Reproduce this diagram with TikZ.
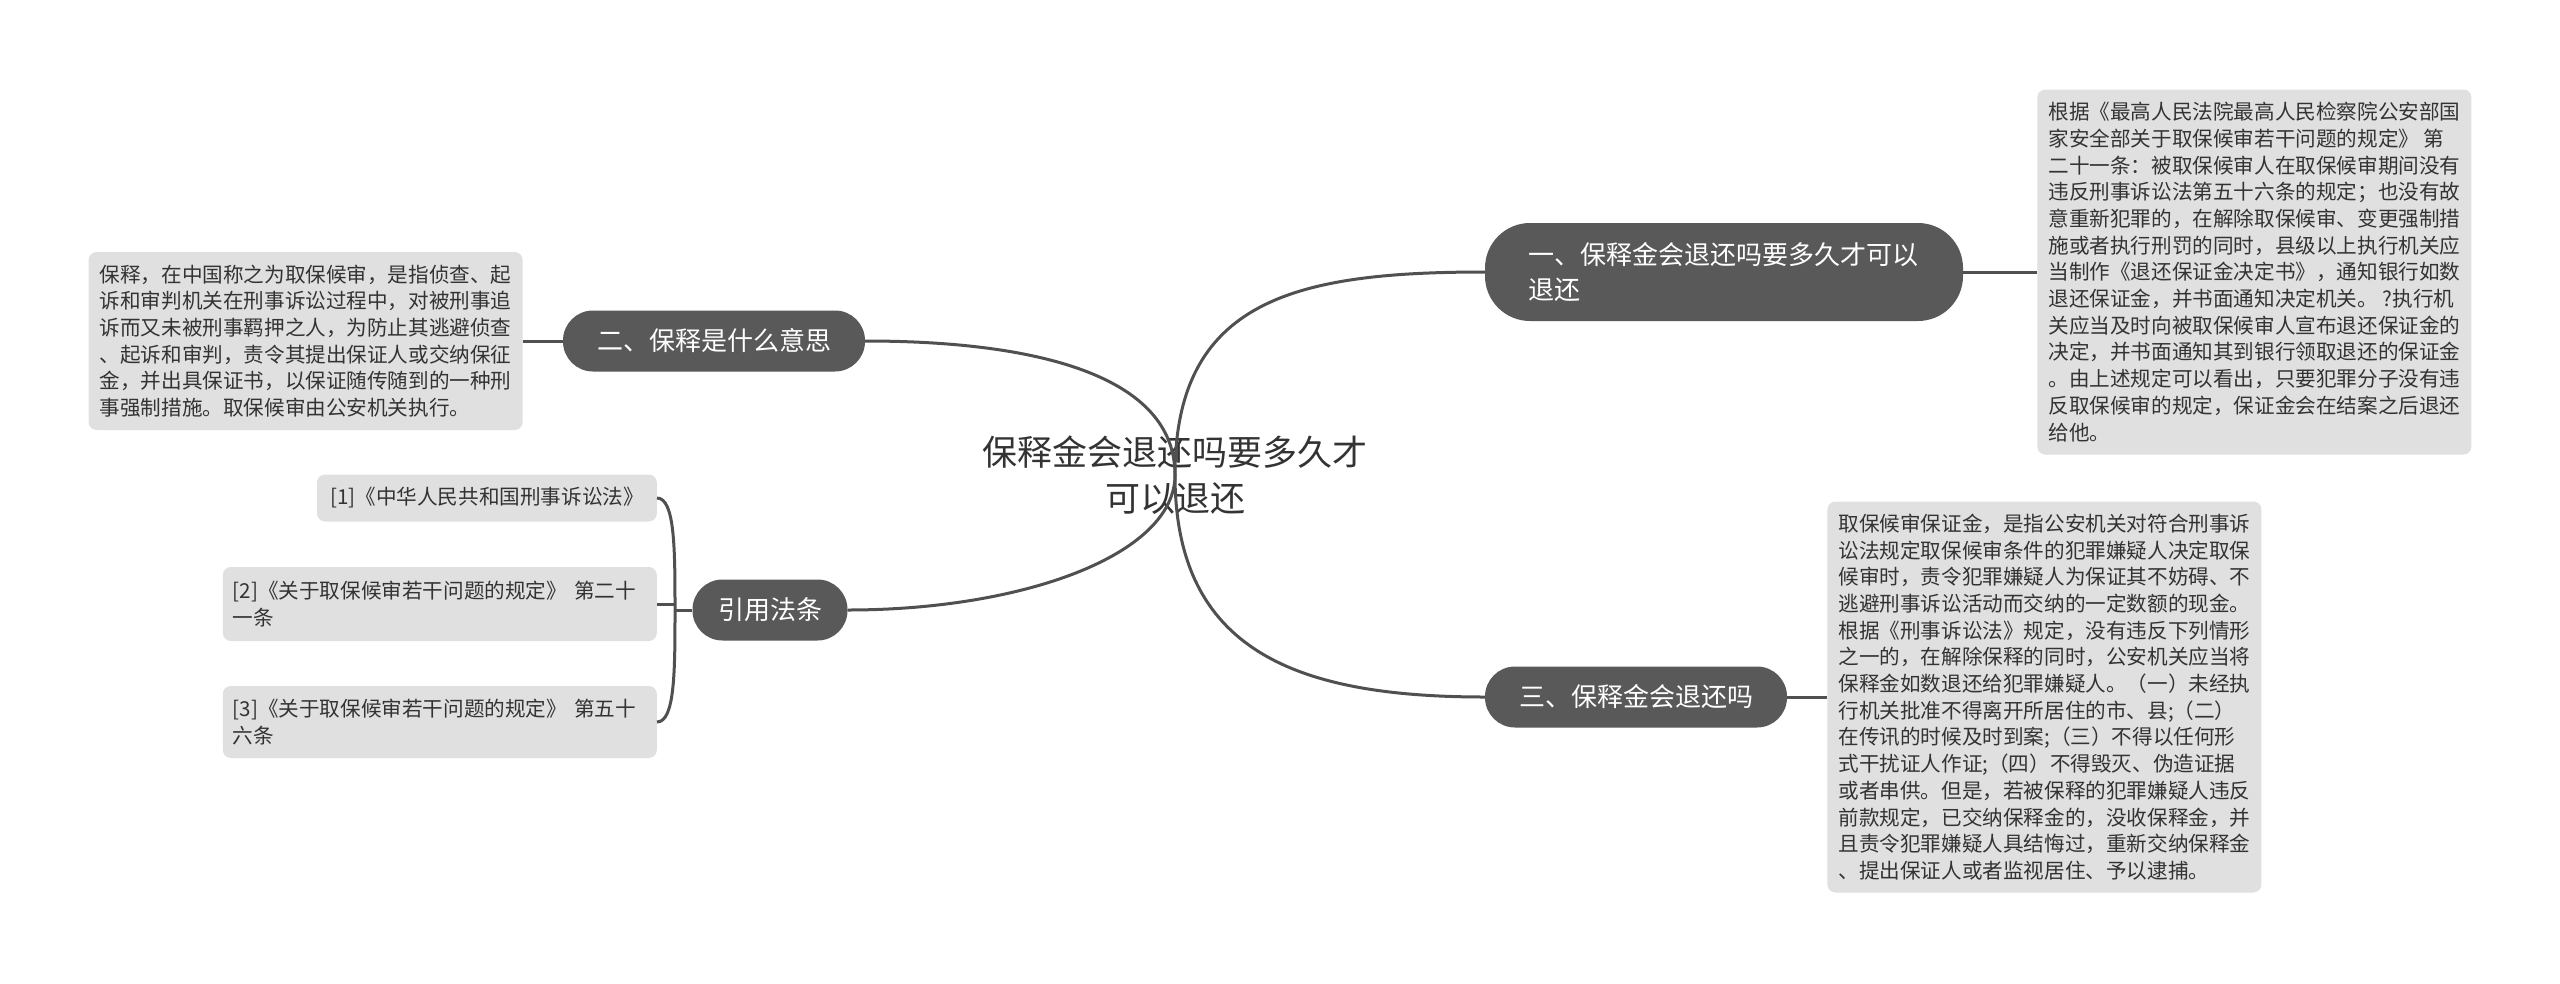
\documentclass[tikz,border=0pt]{standalone}
\usepackage{fontspec}
\setmainfont{Noto Sans CJK SC}
\usetikzlibrary{positioning}

\definecolor{linkgray}{HTML}{505050}
\definecolor{topicgray}{HTML}{595959}
\definecolor{leafgray}{HTML}{E0E0E0}
\definecolor{inkgray}{HTML}{333333}

\begin{document}
\begin{tikzpicture}[x=1pt, y=-1pt,
    root/.style={align=center, text=inkgray, font=\fontsize{35}{46}\selectfont},
    topic/.style={fill=topicgray, text=white, rounded corners=30pt, minimum height=61pt,
                  inner xsep=0pt, font=\fontsize{26}{35}\selectfont},
    leaf/.style={fill=leafgray, text=inkgray, rounded corners=8pt, align=left,
                 inner xsep=11pt, inner ysep=0pt, font=\fontsize{20.6}{26.7}\selectfont},
    link/.style={draw=linkgray, line width=3pt},
    node distance=40pt
]
\fill[white] (0,0) rectangle (2560,983);
\useasboundingbox (0,0) rectangle (2560,983);

% Topics
\node[root] (root) at (1175,475) {保释金会退还吗要多久才\\可以退还};
\node[topic, rounded corners=45pt, minimum height=98pt, inner xsep=43pt,
      text width=392pt, align=left] (b1) at (1724,272) {一、保释金会退还吗要多久才可以\\退还};
\node[topic, minimum width=302pt] (b2) at (714,341) {二、保释是什么意思};
\node[topic, minimum width=302pt] (b3) at (1636,697) {三、保释金会退还吗};
\node[topic, minimum width=155pt] (b4) at (770,610) {引用法条};

% Details
\node[leaf, minimum height=365pt, right=74pt of b1] (d1) {根据《最高人民法院最高人民检察院公安部国\\家安全部关于取保候审若干问题的规定》 第\\二十一条：被取保候审人在取保候审期间没有\\违反刑事诉讼法第五十六条的规定；也没有故\\意重新犯罪的，在解除取保候审、变更强制措\\施或者执行刑罚的同时，县级以上执行机关应\\当制作《退还保证金决定书》，通知银行如数\\退还保证金，并书面通知决定机关。 ?执行机\\关应当及时向被取保候审人宣布退还保证金的\\决定，并书面通知其到银行领取退还的保证金\\。由上述规定可以看出，只要犯罪分子没有违\\反取保候审的规定，保证金会在结案之后退还\\给他。};

\node[leaf, minimum height=178pt, left=40pt of b2] (d2) {保释，在中国称之为取保候审，是指侦查、起\\诉和审判机关在刑事诉讼过程中，对被刑事追\\诉而又未被刑事羁押之人，为防止其逃避侦查\\、起诉和审判，责令其提出保证人或交纳保征\\金，并出具保证书，以保证随传随到的一种刑\\事强制措施。取保候审由公安机关执行。};

\node[leaf, minimum height=391pt, right=40pt of b3] (d3) {取保候审保证金，是指公安机关对符合刑事诉\\讼法规定取保候审条件的犯罪嫌疑人决定取保\\候审时，责令犯罪嫌疑人为保证其不妨碍、不\\逃避刑事诉讼活动而交纳的一定数额的现金。\\根据《刑事诉讼法》规定，没有违反下列情形\\之一的，在解除保释的同时，公安机关应当将\\保释金如数退还给犯罪嫌疑人。（一）未经执\\行机关批准不得离开所居住的市、县;（二）\\在传讯的时候及时到案;（三）不得以任何形\\式干扰证人作证;（四）不得毁灭、伪造证据\\或者串供。但是，若被保释的犯罪嫌疑人违反\\前款规定，已交纳保释金的，没收保释金，并\\且责令犯罪嫌疑人具结悔过，重新交纳保释金\\、提出保证人或者监视居住、予以逮捕。};

% References
\node[leaf, anchor=east, minimum height=47pt, inner xsep=13pt] (r1) at (657,498) {[1]《中华人民共和国刑事诉讼法》};
\node[leaf, anchor=east, minimum height=74pt, text width=414pt, inner xsep=10pt] (r2) at (657,604) {[2]《关于取保候审若干问题的规定》 第二十\\一条};
\node[leaf, anchor=east, minimum height=72pt, text width=414pt, inner xsep=10pt] (r3) at (657,722) {[3]《关于取保候审若干问题的规定》 第五十\\六条};
\coordinate (jn) at (675,610);

% Links
\draw[link] (root.center) .. controls +(0,-175) and +(-190,0) .. (b1.west);
\draw[link] (root.center) .. controls +(0,175) and +(-190,0) .. (b3.west);
\draw[link] (root.center) .. controls +(0,-100) and +(170,0) .. (b2.east);
\draw[link] (root.center) .. controls +(0,80) and +(175,0) .. (b4.east);
\draw[link] (b1.east) -- (d1.west);
\draw[link] (b2.west) -- (d2.east);
\draw[link] (b3.east) -- (d3.west);
\draw[link] (b4.west) -- (jn);
\draw[link] (r1.east) .. controls +(18,0) and +(0,-60) .. (jn);
\draw[link] (r3.east) .. controls +(18,0) and +(0,60) .. (jn);
\draw[link] (r2.east) -- (r2.east -| jn);

\end{tikzpicture}
\end{document}
